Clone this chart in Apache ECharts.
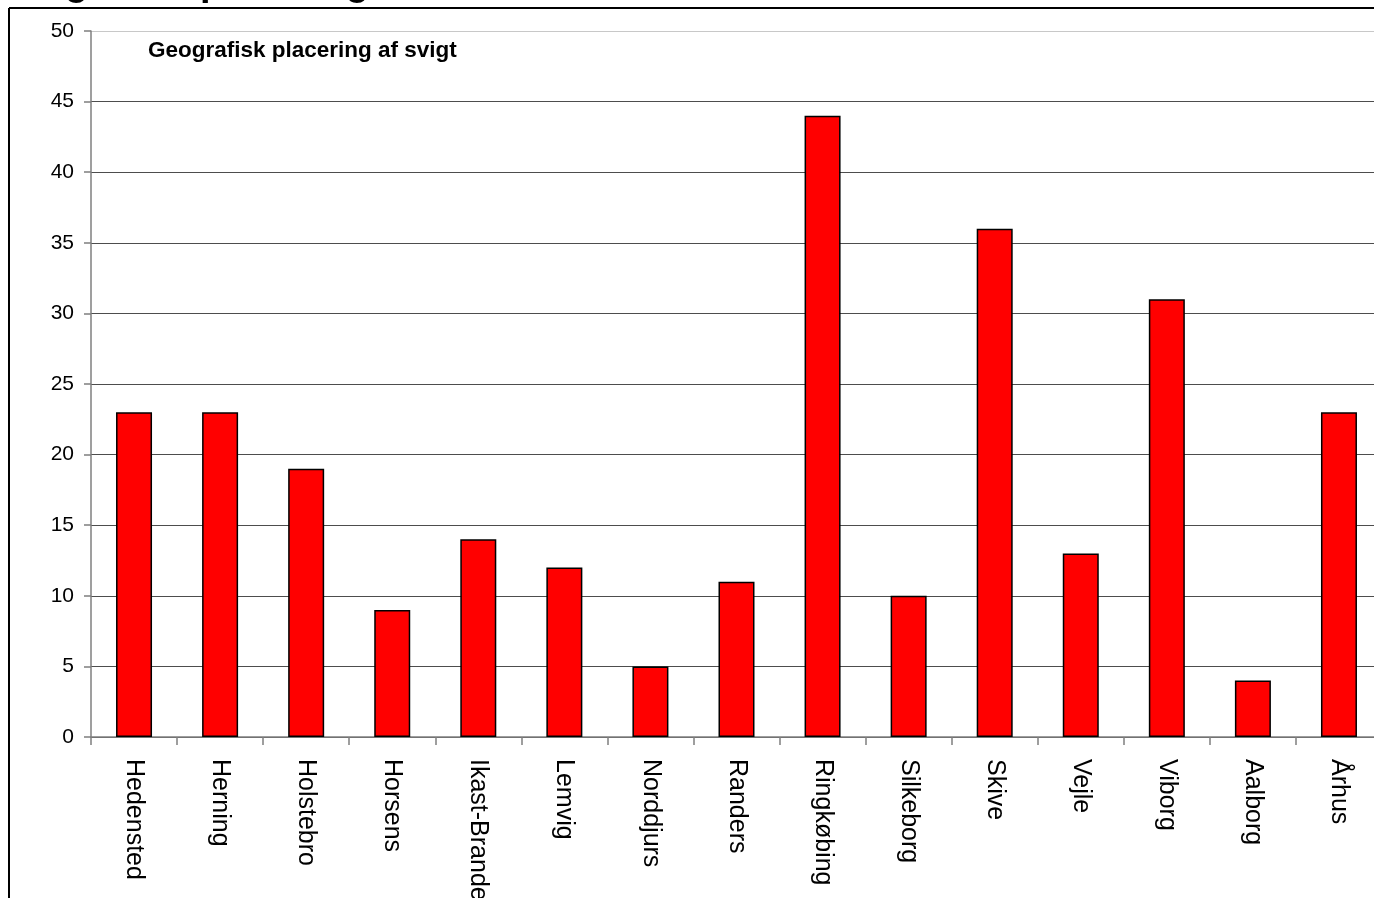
<!DOCTYPE html>
<html>
<head>
<meta charset="utf-8">
<script src="https://cdn.jsdelivr.net/npm/echarts@6/dist/echarts.min.js"></script>
<style>
  html, body { margin: 0; padding: 0; background: #fff; }
  #chart { width: 1374px; height: 898px; }
</style>
</head>
<body>
<div id="chart"></div>
<script>
// Municipalities and number of failures per municipality
const municipalities = ['Hedensted', 'Herning', 'Holstebro', 'Horsens', 'Ikast-Brande', 'Lemvig', 'Norddjurs',
  'Randers', 'Ringkøbing', 'Silkeborg', 'Skive', 'Vejle', 'Viborg', 'Aalborg', 'Århus'];
const failures = [23, 23, 19, 9, 14, 12, 5, 11, 44, 10, 36, 13, 31, 4, 23];
const yTicks = { min: 0, max: 50, step: 5 };

const FONT = '"Liberation Sans", Arial, Helvetica, sans-serif';

// gridlines: dark for the inner lines, light for the top line
const gridColors = [];
for (let v = yTicks.min; v <= yTicks.max; v += yTicks.step) {
  gridColors.push(v === yTicks.max ? '#c8c8c8' : '#4d4d4d');
}

const chart = echarts.init(document.getElementById('chart'), null, { renderer: 'canvas' });

chart.setOption({
  backgroundColor: '#ffffff',
  animation: false,
  grid: { left: 91, top: 31, width: 1291, height: 706, containLabel: false, outerBoundsMode: 'none' },
  xAxis: {
    type: 'category',
    data: municipalities,
    boundaryGap: true,
    axisLine: { show: true, lineStyle: { color: '#7f7f7f', width: 1.5 } },
    axisTick: { show: true, interval: 0, length: 8, lineStyle: { color: '#7f7f7f', width: 1.5 } },
    axisLabel: {
      interval: 0, rotate: -90, margin: 22,
      fontFamily: FONT, fontSize: 25, color: '#000'
    },
    splitLine: { show: false }
  },
  yAxis: {
    type: 'value',
    min: yTicks.min, max: yTicks.max, interval: yTicks.step,
    axisLine: { show: true, lineStyle: { color: '#7f7f7f', width: 1.5 } },
    axisTick: { show: true, length: 7, lineStyle: { color: '#7f7f7f', width: 1.5 } },
    axisLabel: { margin: 17, fontFamily: FONT, fontSize: 21, color: '#000' },
    splitLine: { show: true, lineStyle: { color: gridColors, width: 1.2 } }
  },
  series: [{
    type: 'bar',
    data: failures,
    barWidth: 36,
    itemStyle: { color: '#ff0000', borderColor: '#000', borderWidth: 1.5 }
  }],
  graphic: [
    // heading above the frame, mostly outside the page
    {
      type: 'text', left: -9, top: -34, silent: true,
      style: { text: 'Geografisk placering', fontFamily: FONT, fontWeight: 'bold', fontSize: 38, fill: '#000' }
    },
    // outer frame
    {
      type: 'line', silent: true,
      shape: { x1: 9, y1: 8, x2: 1374, y2: 8 },
      style: { stroke: '#000', lineWidth: 2 }
    },
    {
      type: 'line', silent: true,
      shape: { x1: 9, y1: 8, x2: 9, y2: 898 },
      style: { stroke: '#000', lineWidth: 2 }
    },
    // chart title inside the plot
    {
      type: 'text', left: 148, top: 39, silent: true,
      style: { text: 'Geografisk placering af svigt', fontFamily: FONT, fontWeight: 'bold', fontSize: 22.5, fill: '#000' }
    }
  ]
});
</script>
</body>
</html>
